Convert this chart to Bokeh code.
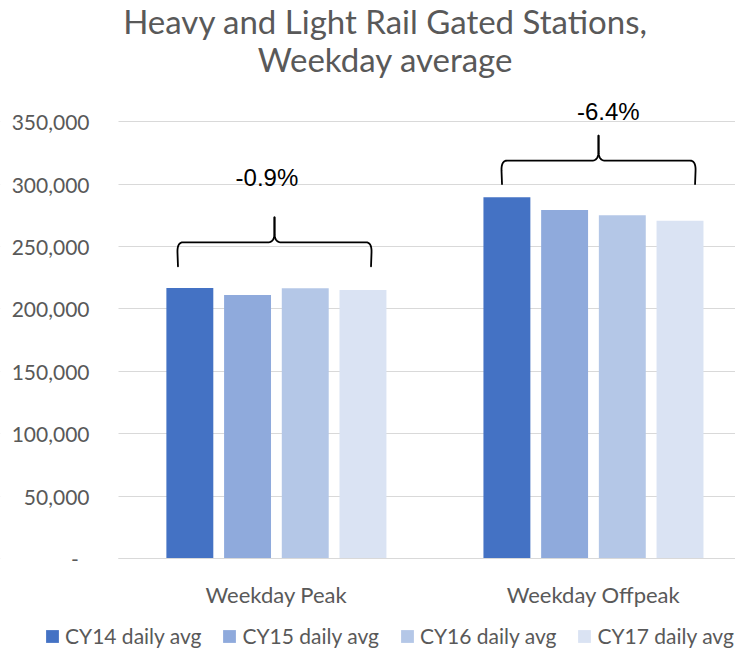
import numpy as np
from bokeh.plotting import figure
from bokeh.models import (ColumnDataSource, Range1d, FixedTicker, NumeralTickFormatter,
                          Legend, LegendItem, BoxAnnotation)
from bokeh.transform import dodge
from bokeh.core.properties import value
from bokeh.embed import file_html
from bokeh.resources import INLINE

# ---------------- data ----------------
categories = ["Weekday Peak", "Weekday Offpeak"]
series_names = ["CY14 daily avg", "CY15 daily avg", "CY16 daily avg", "CY17 daily avg"]
cy14 = [216900, 289500]
cy15 = [211300, 279400]
cy16 = [216600, 275100]
cy17 = [215300, 270800]
change_labels = ["-0.9%", "-6.4%"]
y_ticks = [0, 50000, 100000, 150000, 200000, 250000, 300000, 350000]
title_lines = ["Heavy and Light Rail Gated Stations,", "Weekday average"]

# ---------------- style ----------------
colors = ["#4472C4", "#8FAADC", "#B4C7E7", "#DAE3F3"]
FONT = "Lato"
GREY = "#595959"
GRID = "#D9D9D9"

# plot-area extent (data units) inside a frame that covers the whole canvas
AREA_LEFT = -0.498
X_START, X_END = -0.8702, 1.448
Y_START, Y_END = -72138, 447274

# annotation geometry (title, braces and their labels)
title_x = 0.344
title_y = [430665, 400770]
brace_center = [-0.006, 1.016]
brace_half = 0.3076
brace_bottom = [234200, 300200]
brace_mid = [253400, 318900]
brace_tip = [273500, 338900]
label_x = [-0.030, 1.047]
label_y = [305200, 358700]

offsets = [-0.273, -0.091, 0.091, 0.273]
bar_w = 0.148

src = ColumnDataSource(dict(x=list(range(len(categories))), cy14=cy14, cy15=cy15,
                            cy16=cy16, cy17=cy17))

p = figure(width=735, height=648, output_backend="svg", toolbar_location=None,
           x_range=Range1d(X_START, X_END), y_range=Range1d(Y_START, Y_END),
           min_border_left=0, min_border_right=0, min_border_bottom=0, min_border_top=0)
p.outline_line_color = None

# grid lines only across the plot area
p.ygrid.ticker = FixedTicker(ticks=y_ticks)
p.ygrid.grid_line_color = GRID
p.xgrid.grid_line_color = None
p.add_layout(BoxAnnotation(right=AREA_LEFT, fill_color="white", fill_alpha=1.0,
                           line_color=None, level="underlay"))

renderers = []
for key, off, col in zip(["cy14", "cy15", "cy16", "cy17"], offsets, colors):
    r = p.vbar(x=dodge("x", off), top=key, width=bar_w, source=src,
               fill_color=col, line_color=None)
    renderers.append(r)

# braces
PX_X = 1.0 / 317.0
PX_Y = 50000.0 / 62.38


def quad(p0, c, p1, n=12):
    t = np.linspace(0, 1, n)
    xs = (1 - t) ** 2 * p0[0] + 2 * (1 - t) * t * c[0] + t ** 2 * p1[0]
    ys = (1 - t) ** 2 * p0[1] + 2 * (1 - t) * t * c[1] + t ** 2 * p1[1]
    return list(xs), list(ys)


xs_all, ys_all = [], []
for xc, yb, yh, yt in zip(brace_center, brace_bottom, brace_mid, brace_tip):
    for sgn in (-1, 1):
        x0 = xc + sgn * brace_half
        rx_e, ry_e = 6 * PX_X, 10 * PX_Y
        rx_c, ry_c = 7 * PX_X, 9 * PX_Y
        xs = [x0 - sgn * 1 * PX_X]
        ys = [yb]
        xs += [x0 - sgn * 0.5 * PX_X]
        ys += [yh - ry_e]
        cx, cy = quad((x0 - sgn * 0.5 * PX_X, yh - ry_e), (x0 - sgn * 0.2 * PX_X, yh),
                      (x0 - sgn * rx_e, yh))
        xs += cx
        ys += cy
        xs += [xc + sgn * rx_c]
        ys += [yh]
        cx, cy = quad((xc + sgn * rx_c, yh), (xc, yh), (xc, yh + ry_c))
        xs += cx
        ys += cy
        xs += [xc]
        ys += [yt]
        xs_all.append(xs)
        ys_all.append(ys)

p.multi_line(xs=xs_all, ys=ys_all, line_color="black", line_width=1.8,
             line_join="round", line_cap="round")

p.text(x=label_x, y=label_y, text=change_labels, text_font=value("Liberation Sans"),
       text_font_size="24px", text_color="black", text_align="center",
       text_baseline="alphabetic")

# title (two centred lines)
p.text(x=[title_x, title_x], y=title_y, text=title_lines, text_font=value(FONT),
       text_font_size="33px", text_color=GREY, text_align="center",
       text_baseline="alphabetic")

# axes, fixed at the plot-area edges
p.yaxis.fixed_location = AREA_LEFT
p.yaxis.ticker = FixedTicker(ticks=y_ticks)
p.yaxis.formatter = NumeralTickFormatter(format="0,0")
p.yaxis.major_label_overrides = {0: "-\u00a0\u00a0"}
p.yaxis.axis_line_color = None
p.yaxis.major_tick_line_color = None
p.yaxis.minor_tick_line_color = None
p.yaxis.major_tick_out = 0
p.yaxis.major_tick_in = 0
p.yaxis.major_label_standoff = 29
p.yaxis.major_label_text_font = FONT
p.yaxis.major_label_text_font_size = "21px"
p.yaxis.major_label_text_color = GREY

p.xaxis.fixed_location = 0
p.xaxis.bounds = (AREA_LEFT, X_END)
p.xaxis.ticker = FixedTicker(ticks=list(range(len(categories))))
p.xaxis.major_label_overrides = {i: c for i, c in enumerate(categories)}
p.xaxis.axis_line_color = GRID
p.xaxis.axis_line_width = 1
p.xaxis.major_tick_line_color = None
p.xaxis.minor_tick_line_color = None
p.xaxis.major_label_standoff = 16
p.xaxis.major_label_text_font = FONT
p.xaxis.major_label_text_font_size = "22px"
p.xaxis.major_label_text_color = GREY

legend = Legend(items=[LegendItem(label=n, renderers=[r]) for n, r in zip(series_names, renderers)],
                orientation="horizontal", location=(44, 0),
                glyph_width=16, glyph_height=16, label_standoff=5, spacing=20,
                padding=0, margin=0, border_line_color=None, background_fill_alpha=0,
                label_text_font=FONT, label_text_font_size="21px", label_text_color=GREY)
p.add_layout(legend, "center")

open("out.html", "w").write(file_html(p, INLINE))
